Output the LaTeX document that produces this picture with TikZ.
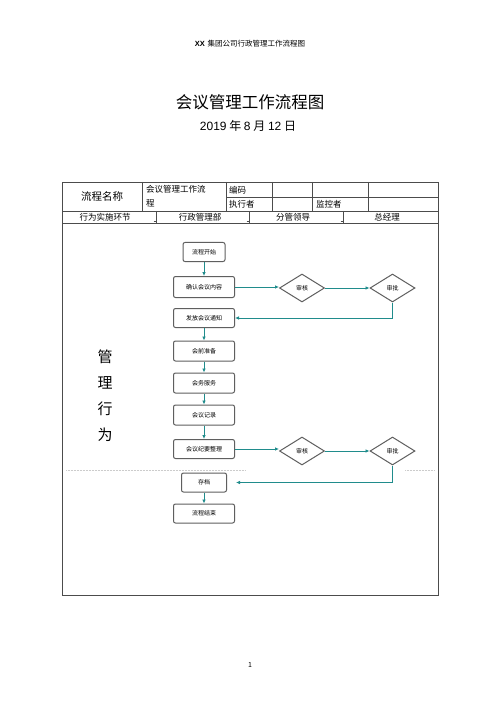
\documentclass[tikz,border=0pt]{standalone}
\usepackage{fontspec}
\setmainfont{Noto Sans CJK SC}
\newfontfamily\latin{Liberation Sans}
\usetikzlibrary{arrows.meta,shapes.geometric}
\definecolor{arrowteal}{RGB}{32,140,140}
\definecolor{boxgray}{RGB}{95,95,95}

\begin{document}
\begin{tikzpicture}[x=1pt, y=-1pt, every node/.style={font=\fontsize{6}{7}\selectfont, inner sep=0pt}, >={Latex[length=4pt,width=3.6pt]},
	task/.style={draw=boxgray, line width=1pt, rounded corners=2pt, minimum width=61pt, minimum height=20pt},
	check/.style={diamond, draw=boxgray, line width=1pt, minimum width=45pt, minimum height=28pt, aspect=1.6},
	flow/.style={->, draw=arrowteal, line width=0.9pt},
	rule/.style={black!70, line width=0.6pt}]
	\useasboundingbox[fill=white] (0,0) rectangle (500,708);
	% header, title, date
	\node[font=\fontsize{7.5}{9}\selectfont] (head) at (250,44) {{\latin\bfseries XX}\, 集团公司行政管理工作流程图};
	\node[font=\fontsize{16.5}{18}\selectfont] (title) at (250,102) {会议管理工作流程图};
	\node[font=\fontsize{12}{14}\selectfont] (date) at (248,126) {{\latin 2019} 年 {\latin 8} 月 {\latin 12} 日};
	% form table
	\draw[rule] (62,182) rectangle (438,595);
	\draw[rule] (62,211) -- (438,211);
	\draw[rule] (62,223) -- (438,223);
	\draw[rule] (226,197) -- (438,197);
	\foreach \x in {142,226,272,312,368} \draw[rule] (\x,182) -- (\x,211);
	\foreach \x in {156,249,343} {
		\draw[rule] (\x,211) -- (\x,223);
		\draw[rule] (\x-2.5,221.5) -- (\x+0.3,221.5);
	}
	\node[font=\fontsize{10.5}{12}\selectfont] (name) at (102,196.5) {流程名称};
	\node[anchor=west, font=\fontsize{8.5}{10}\selectfont] (proc1) at (146,189.5) {会议管理工作流};
	\node[anchor=west, font=\fontsize{8.5}{10}\selectfont] (proc2) at (146,203.5) {程};
	\node[anchor=west, font=\fontsize{8.5}{10}\selectfont] (code) at (229,190) {编码};
	\node[anchor=west, font=\fontsize{8.5}{10}\selectfont] (exec) at (229,204) {执行者};
	\node[anchor=west, font=\fontsize{8.5}{10}\selectfont] (watch) at (316,204) {监控者};
	\node[font=\fontsize{8.5}{10}\selectfont] (lane0) at (105,217) {行为实施环节};
	\node[font=\fontsize{8.5}{10}\selectfont] (lane1) at (200,217) {行政管理部};
	\node[font=\fontsize{8.5}{10}\selectfont] (lane2) at (293,217) {分管领导};
	\node[font=\fontsize{8.5}{10}\selectfont] (lane3) at (387,217) {总经理};
	\node[align=center, font=\fontsize{15}{26}\selectfont] (side) at (105,396) {管\\理\\行\\为};
	\draw[gray!40, densely dotted, line width=0.5pt] (66,470) -- (245,470);
	\draw[gray!40, densely dotted, line width=0.5pt] (405,470) -- (434,470);
	% flow
	\node[task, minimum width=42pt, minimum height=19pt] (start) at (204,252) {流程开始};
	\node[task, minimum height=21pt] (confirm) at (204,287) {确认会议内容};
	\node[check] (check1) at (302,288) {审核};
	\node[check] (appr1) at (392.5,288) {审批};
	\node[task, minimum height=19pt] (notice) at (204,318) {发放会议通知};
	\node[task] (prep) at (204,351) {会前准备};
	\node[task] (serv) at (204,383) {会务服务};
	\node[task] (rec) at (204,415) {会议记录};
	\node[task, minimum height=19pt] (minutes) at (204,449) {会议纪要整理};
	\node[check] (check2) at (302,451) {审核};
	\node[check] (appr2) at (392.5,451) {审批};
	\node[task, minimum width=45pt, minimum height=19pt] (archive) at (204,482.5) {存档};
	\node[task, minimum height=19pt] (done) at (204,513.5) {流程结束};
	\foreach \a/\b in {start/confirm, notice/prep, prep/serv, serv/rec, rec/minutes, archive/done}
		\draw[flow] (\a) -- (\b);
	\draw[flow] (confirm.east) -- (confirm.east -| check1.west);
	\draw[flow] (check1) -- (appr1);
	\draw[flow] (appr1.south) |- (notice.east);
	\draw[flow] (minutes.east) -- (minutes.east -| check2.west);
	\draw[flow] (check2) -- (appr2);
	\draw[flow, shorten >=9pt] (appr2.south) |- (archive.east);
	\node[font=\fontsize{7}{8}\selectfont] (page) at (250,665) {1};
\end{tikzpicture}
\end{document}
